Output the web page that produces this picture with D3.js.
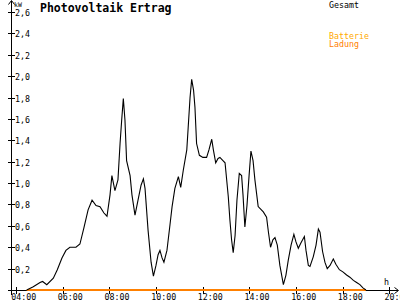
<!DOCTYPE html>
<html>
<head>
<meta charset="utf-8">
<script src="https://cdn.jsdelivr.net/npm/d3@7"></script>
<style>
  html, body { margin: 0; padding: 0; background: #fff; }
  svg { display: block; }
  text { font-family: "DejaVu Sans Mono", "Liberation Mono", monospace; }
</style>
</head>
<body>
<svg id="chart" width="400" height="300"></svg>
<script>
// ---- data ----
const title = "Photovoltaik Ertrag";
const unitLabel = "kW";
const xUnitLabel = "h";
const legendLabels = ["Gesamt", "Batterie", "Ladung"];
const xTickHours = [4, 6, 8, 10, 12, 14, 16, 18, 20];
const xTickLabels = ["04:00", "06:00", "08:00", "10:00", "12:00", "14:00", "16:00", "18:00", "20:00"];
const yTickValues = [0.2, 0.4, 0.6, 0.8, 1.0, 1.2, 1.4, 1.6, 1.8, 2.0, 2.2, 2.4, 2.6];
const yTickLabels = ["0,2", "0,4", "0,6", "0,8", "1,0", "1,2", "1,4", "1,6", "1,8", "2,0", "2,2", "2,4", "2,6"];

// Gesamt (total PV output), time in decimal hours, power in kW
const gesamtHours = [4.46, 4.74, 5.03, 5.14, 5.32, 5.60, 5.77, 5.97, 6.14, 6.31, 6.57, 6.74, 6.91, 7.09, 7.26, 7.43, 7.60, 7.77, 7.90,
  8.03, 8.11, 8.24, 8.37, 8.46, 8.53, 8.60, 8.67, 8.74, 8.89, 8.97, 9.10, 9.23, 9.36, 9.46, 9.53, 9.66, 9.79, 9.89,
  10.00, 10.09, 10.17, 10.26, 10.34, 10.47, 10.60, 10.69, 10.81, 10.96, 11.06, 11.17, 11.32, 11.38, 11.46, 11.53, 11.61, 11.67, 11.74, 11.86,
  12.01, 12.17, 12.27, 12.39, 12.46, 12.56, 12.66, 12.74, 12.87, 12.96, 13.10, 13.17, 13.24, 13.31, 13.39, 13.47, 13.57, 13.67, 13.73, 13.81, 13.90, 13.99,
  14.07, 14.16, 14.24, 14.38, 14.60, 14.74, 14.82, 14.91, 15.01, 15.10, 15.20, 15.31, 15.46, 15.57, 15.67, 15.79, 15.91,
  16.00, 16.10, 16.21, 16.36, 16.43, 16.53, 16.60, 16.74, 16.86, 16.96, 17.03, 17.14, 17.24, 17.34, 17.46, 17.60, 17.71, 17.86,
  18.01, 18.17, 18.31, 18.46, 18.60, 18.74, 18.87, 19.00];
const gesamtKw = [0.00, 0.03, 0.07, 0.08, 0.05, 0.11, 0.19, 0.30, 0.37, 0.40, 0.40, 0.43, 0.58, 0.75, 0.84, 0.79, 0.78, 0.72, 0.69,
  0.89, 1.07, 0.93, 1.03, 1.37, 1.59, 1.79, 1.59, 1.21, 1.07, 0.89, 0.70, 0.84, 0.98, 1.04, 0.95, 0.56, 0.26, 0.13,
  0.23, 0.33, 0.37, 0.30, 0.26, 0.37, 0.61, 0.78, 0.95, 1.06, 0.96, 1.12, 1.31, 1.52, 1.80, 1.97, 1.87, 1.71, 1.37, 1.26,
  1.24, 1.24, 1.31, 1.41, 1.31, 1.19, 1.23, 1.24, 1.21, 1.19, 0.87, 0.65, 0.47, 0.35, 0.51, 0.84, 1.09, 1.07, 0.89, 0.59, 0.79, 1.07,
  1.30, 1.21, 1.03, 0.78, 0.73, 0.68, 0.54, 0.40, 0.47, 0.49, 0.42, 0.23, 0.05, 0.14, 0.28, 0.42, 0.52,
  0.45, 0.39, 0.44, 0.50, 0.37, 0.23, 0.22, 0.31, 0.42, 0.57, 0.54, 0.36, 0.26, 0.20, 0.23, 0.29, 0.24, 0.19,
  0.17, 0.14, 0.12, 0.09, 0.07, 0.05, 0.02, 0.00];

// Batterie Ladung (battery charging) — zero all day
const ladungHours = [4.46, 19.00];
const ladungKw = [0, 0];

// ---- drawing ----
const svg = d3.select("#chart");
const x = d3.scaleLinear().domain([4, 20]).range([16, 389.3]);
const y = d3.scaleLinear().domain([0, 2.6]).range([290, 12]);
const axisX = 11; // y-axis position

const black = "#000";
const orange = "#ff8000";
const amber = "#ffaa00";

// axes lines
svg.append("line").attr("x1", axisX + 0.5).attr("x2", axisX + 0.5).attr("y1", 1).attr("y2", 295)
  .attr("stroke", black).attr("shape-rendering", "crispEdges");
svg.append("line").attr("x1", 8).attr("x2", 398).attr("y1", 290.5).attr("y2", 290.5)
  .attr("stroke", black).attr("shape-rendering", "crispEdges");
// arrows
svg.append("path").attr("d", `M${axisX - 2.5},4.5 L${axisX + 0.5},0.5 L${axisX + 3.5},4.5`)
  .attr("fill", "none").attr("stroke", black);
svg.append("path").attr("d", `M394.5,287.5 L398.5,290.5 L394.5,293.5`)
  .attr("fill", "none").attr("stroke", black);

// y ticks
const yt = svg.append("g");
yTickValues.forEach((v, i) => {
  const py = Math.round(y(v)) + 0.5;
  yt.append("line").attr("x1", 8).attr("x2", 15).attr("y1", py).attr("y2", py)
    .attr("stroke", black).attr("shape-rendering", "crispEdges");
  yt.append("text").attr("x", 15).attr("y", py + 3)
    .attr("font-size", "8.3px").attr("fill", black).text(yTickLabels[i]);
});

// x ticks
const xt = svg.append("g");
xTickHours.forEach((h, i) => {
  const px = Math.round(x(h)) + 0.5;
  xt.append("line").attr("x1", px).attr("x2", px).attr("y1", 287).attr("y2", 294)
    .attr("stroke", black).attr("shape-rendering", "crispEdges");
  xt.append("text").attr("x", x(h) - 4.8).attr("y", 299.5)
    .attr("font-size", "8.3px").attr("fill", black).text(xTickLabels[i]);
});

// unit labels
svg.append("text").attr("x", 14).attr("y", 7).attr("font-size", "6.5px").attr("fill", black).text(unitLabel);
svg.append("text").attr("x", 384).attr("y", 285).attr("font-size", "8.3px").attr("fill", black).text(xUnitLabel);

// title
svg.append("text").attr("x", 40).attr("y", 11.5).attr("font-size", "11.5px").attr("font-weight", "bold")
  .attr("fill", black).text(title);

// legend
svg.append("text").attr("x", 329).attr("y", 7.5).attr("font-size", "8.3px").attr("fill", black).text(legendLabels[0]);
svg.append("text").attr("x", 329).attr("y", 38.5).attr("font-size", "8.3px").attr("fill", amber).text(legendLabels[1]);
svg.append("text").attr("x", 329).attr("y", 47).attr("font-size", "8.3px").attr("fill", orange).text(legendLabels[2]);

// series
const line = d3.line().x(d => x(d[0])).y(d => y(d[1]));
const ladung = ladungHours.map((h, i) => [h, ladungKw[i]]);
svg.append("path").datum(ladung).attr("d", line).attr("fill", "none")
  .attr("stroke", orange).attr("stroke-width", 2);

const gesamt = gesamtHours.map((h, i) => [h, gesamtKw[i]]);
svg.append("path").datum(gesamt).attr("d", line).attr("fill", "none")
  .attr("stroke", black).attr("stroke-width", 1.1);
</script>
</body>
</html>
